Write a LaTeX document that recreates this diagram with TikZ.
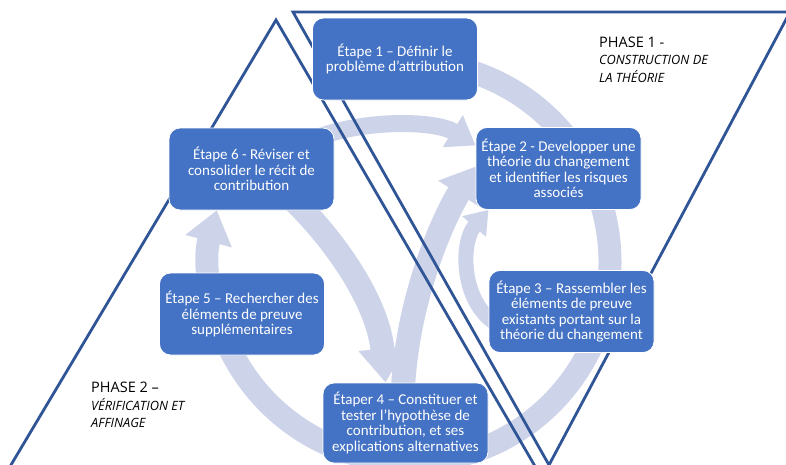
\documentclass[tikz,border=0pt]{standalone}
\usepackage{fontspec}
\setmainfont{Carlito}
\newfontfamily\phasefont{Open Sans}
\newcommand\phsub{\phasefont\itshape\fontsize{12.8}{16}\selectfont}
\usetikzlibrary{arrows.meta}
\definecolor{boxblue}{RGB}{68,114,196}
\definecolor{bandc}{RGB}{205,211,233}
\definecolor{tric}{RGB}{47,85,151}
\pgfdeclarelayer{bg}
\pgfdeclarelayer{mid}
\pgfsetlayers{bg,mid,main}
\begin{document}
\begin{tikzpicture}[x=1pt,y=-1pt,
  stepbox/.style={draw=white, line width=0.8pt, fill=boxblue, rounded corners=11pt,
    text=white, align=center, minimum width=165pt, minimum height=82pt, inner sep=2pt,
    font=\fontsize{15}{15.5}\selectfont},
  band/.style={draw=bandc, line width=#1},
  triline/.style={draw=tric, line width=2.8pt, line join=miter},
  phase/.style={align=left, anchor=north west, inner sep=0pt,
    font=\phasefont\fontsize{14.5}{17.5}\selectfont, text=black}
]
\useasboundingbox (0,0) rectangle (786,464);
\clip (0,0) rectangle (786,464);

% step boxes
\node[stepbox] (b1) at (395,59) {Étape 1 – Définir le\\problème d’attribution};
\node[stepbox] (b2) at (558.5,168.5) {Étape 2 - Developper une\\théorie du changement\\et identifier les risques\\associés};
\node[stepbox] (b3) at (571.5,311.5) {Étape 3 – Rassembler les\\éléments de preuve\\existants portant sur la\\théorie du changement};
\node[stepbox, minimum height=80pt] (b4) at (405.5,423) {Étaper 4 – Constituer et\\tester l’hypothèse de\\contribution, et ses\\explications alternatives};
\node[stepbox] (b5) at (242,314) {Étape 5 – Rechercher des\\éléments de preuve\\supplémentaires};
\node[stepbox] (b6) at (251.5,169) {Étape 6 - Réviser et\\consolider le récit de\\contribution};

% phase labels
\node[phase] (ph1) at (599,36.5) {PHASE 1 -\\{\phsub CONSTRUCTION DE}\\{\phsub LA THÉORIE}};
\node[phase] (ph2) at (91,382) {PHASE 2 –\\{\phsub VÉRIFICATION ET}\\{\phsub AFFINAGE}};

\begin{pgfonlayer}{bg}
  \coordinate (rc) at (410,262);
  % main cycle
  \draw[band=23pt, -{Triangle[width=46pt,length=32pt]}]
    ([shift={(-95:200)}]rc) arc[start angle=-95, end angle=195, radius=200];
  % step 6 -> step 2
  \draw[band=17pt, -{Triangle[width=36pt,length=27pt]}]
    ([xshift=50pt,yshift=25pt]b6.center) .. controls (355,118) and (435,120) .. ([yshift=23pt]b2.west);
  % step 6 -> step 4
  \draw[band=24pt, -{Triangle[width=46pt,length=34pt]}]
    ([xshift=30pt,yshift=-20pt]b6.center) .. controls (330,232) and (378,300) .. ([xshift=-20pt]b4.north);
  % step 4 -> step 2
  \draw[band=24pt, -{Triangle[width=46pt,length=32pt]}]
    ([xshift=-3pt,yshift=23pt]b4.center) .. controls (405,300) and (445,215) .. ([yshift=2pt]b2.west);
  % step 3 -> step 2
  \draw[band=15pt, -{Triangle[width=30pt,length=22pt]}]
    ([xshift=-61pt,yshift=-18pt]b3.center) .. controls (462,318) and (458,245) .. ([xshift=-70pt]b2.south);
\end{pgfonlayer}

\begin{pgfonlayer}{mid}
  \draw[triline] (2,480) -- (276,20) -- (543,480);
  \draw[triline] (293,12) -- (549,465) -- (790,12) -- cycle;
\end{pgfonlayer}
\end{tikzpicture}
\end{document}
